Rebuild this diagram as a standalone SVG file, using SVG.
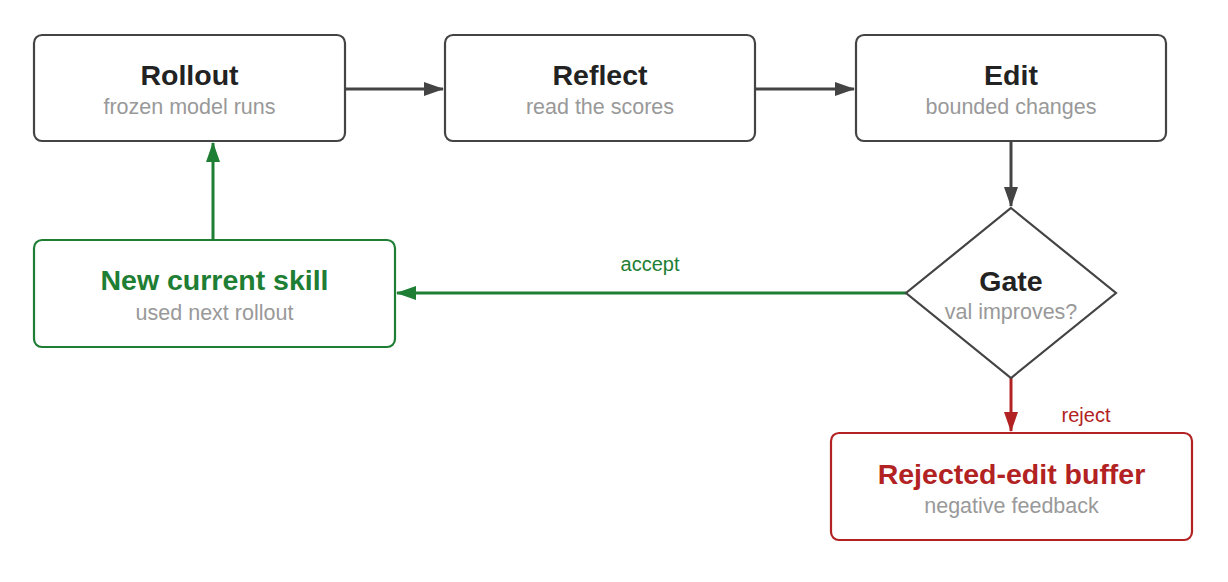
<svg xmlns="http://www.w3.org/2000/svg" width="1228" height="582" viewBox="0 0 1228 582">
<style>
.box{fill:#fff;stroke-width:2.2}
.t{font-family:"Liberation Sans",Arial,sans-serif;font-weight:bold;font-size:28.5px;text-anchor:middle}
.s{font-family:"Liberation Sans",Arial,sans-serif;font-size:21.5px;fill:#999;text-anchor:middle}
.l{font-family:"Liberation Sans",Arial,sans-serif;font-size:20px;text-anchor:middle}
</style>
<defs>
<marker id="ag" viewBox="0 0 20 14" refX="19" refY="7" markerWidth="20" markerHeight="14" orient="auto" markerUnits="userSpaceOnUse"><path d="M0,0L20,7L0,14z" fill="#444"/></marker>
<marker id="agr" viewBox="0 0 20 14" refX="19" refY="7" markerWidth="20" markerHeight="14" orient="auto" markerUnits="userSpaceOnUse"><path d="M0,0L20,7L0,14z" fill="#1e7e34"/></marker>
<marker id="ar" viewBox="0 0 20 14" refX="19" refY="7" markerWidth="20" markerHeight="14" orient="auto" markerUnits="userSpaceOnUse"><path d="M0,0L20,7L0,14z" fill="#b22222"/></marker>
</defs>
<rect width="1228" height="582" fill="#fff"/>
<g id="connectors" stroke-width="3" fill="none">
<line x1="345" y1="89" x2="443" y2="89" stroke="#444" marker-end="url(#ag)"/>
<line x1="755" y1="89" x2="854" y2="89" stroke="#444" marker-end="url(#ag)"/>
<line x1="1011" y1="141" x2="1011" y2="206" stroke="#444" marker-end="url(#ag)"/>
<line x1="906" y1="293" x2="397" y2="293" stroke="#1e7e34" marker-end="url(#agr)"/>
<line x1="213" y1="240" x2="213" y2="143" stroke="#1e7e34" marker-end="url(#agr)"/>
<line x1="1011" y1="378" x2="1011" y2="431" stroke="#b22222" marker-end="url(#ar)"/>
<text class="l" x="650" y="271" fill="#1e7e34" stroke="none">accept</text>
<text class="l" x="1086" y="422" fill="#b22222" stroke="none">reject</text>
</g>
<g id="rollout"><rect class="box" x="34" y="35" width="311" height="106" rx="8" stroke="#444"/><text class="t" x="189.5" y="85" fill="#222">Rollout</text><text class="s" x="189.5" y="114">frozen model runs</text></g>
<g id="reflect"><rect class="box" x="445" y="35" width="310" height="106" rx="8" stroke="#444"/><text class="t" x="600" y="85" fill="#222">Reflect</text><text class="s" x="600" y="114">read the scores</text></g>
<g id="edit"><rect class="box" x="856" y="35" width="310" height="106" rx="8" stroke="#444"/><text class="t" x="1011" y="85" fill="#222">Edit</text><text class="s" x="1011" y="114">bounded changes</text></g>
<g id="gate"><polygon class="box" points="1011,208 1116,293 1011,378 906,293" stroke="#444"/><text class="t" x="1011" y="291" fill="#222">Gate</text><text class="s" x="1011" y="319">val improves?</text></g>
<g id="newskill"><rect class="box" x="34" y="240" width="361" height="107" rx="8" stroke="#1e7e34"/><text class="t" x="214.5" y="290" fill="#1e7e34">New current skill</text><text class="s" x="214.5" y="320">used next rollout</text></g>
<g id="rejected"><rect class="box" x="831" y="433" width="361" height="107" rx="8" stroke="#b22222"/><text class="t" x="1011.5" y="484" fill="#b22222">Rejected-edit buffer</text><text class="s" x="1011.5" y="513">negative feedback</text></g>
</svg>
